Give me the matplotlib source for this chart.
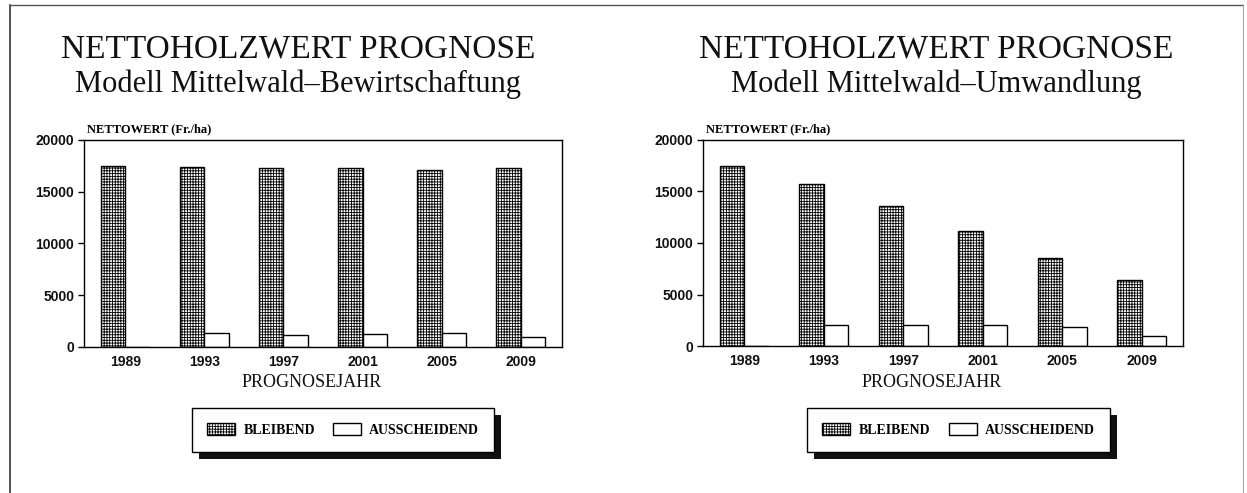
import matplotlib
matplotlib.use('Agg')
import matplotlib.pyplot as plt
import numpy as np
from matplotlib.patches import Rectangle
from matplotlib.lines import Line2D

# ---------------- data ----------------
years = ['1989', '1993', '1997', '2001', '2005', '2009']
bew_bleibend = [17500, 17420, 17320, 17260, 17130, 17290]
bew_ausscheidend = [0, 1350, 1130, 1260, 1320, 970]
umw_bleibend = [17500, 15720, 13610, 11180, 8560, 6450]
umw_ausscheidend = [0, 2010, 2010, 2000, 1880, 940]

title_main = 'NETTOHOLZWERT PROGNOSE'
subtitles = ['Modell Mittelwald\u2013Bewirtschaftung', 'Modell Mittelwald\u2013Umwandlung']
ylabel = 'NETTOWERT (Fr./ha)'
xlabel = 'PROGNOSEJAHR'
series_labels = ['BLEIBEND', 'AUSSCHEIDEND']
yticks = [0, 5000, 10000, 15000, 20000]

# ---------------- layout ----------------
W, H = 1247, 493
fig = plt.figure(figsize=(W / 100, H / 100), dpi=100)
plt.rcParams['hatch.linewidth'] = 0.6

def fx(px):
    return px / W

def fy(py):
    return 1 - py / H

SERIF = 'Liberation Serif'
SANS = 'Liberation Sans'

panels = [
    dict(box=(84, 140, 562, 347), tx=298, legend=(192, 408, 494, 452),
         b=bew_bleibend, a=bew_ausscheidend, sub=subtitles[0]),
    dict(box=(703, 140, 1183, 346), tx=936, legend=(807, 408, 1110, 452),
         b=umw_bleibend, a=umw_ausscheidend, sub=subtitles[1]),
]

# outer frame lines
fig.add_artist(Line2D([fx(10), fx(10)], [fy(5), fy(493)], color='#333333', lw=1.2))
fig.add_artist(Line2D([fx(10), fx(1243)], [fy(5), fy(5)], color='#555555', lw=1.0))
fig.add_artist(Line2D([fx(1243), fx(1243)], [fy(5), fy(493)], color='#aaaaaa', lw=0.8))

w = 0.31
x = np.arange(len(years))
legends = []
for p in panels:
    x0, y0, x1, y1 = p['box']
    ax = fig.add_axes([fx(x0), fy(y1), fx(x1 - x0), (y1 - y0) / H])
    hb = ax.bar(x - w / 2, p['b'], width=w, facecolor='white', edgecolor='black',
                hatch='++++++', linewidth=1.0, label=series_labels[0])
    ha = ax.bar(x + w / 2, p['a'], width=w, facecolor='white', edgecolor='black',
                linewidth=1.0, label=series_labels[1])
    ax.set_xlim(-0.52, 5.52)
    ax.set_ylim(0, 20000)
    ax.set_yticks(yticks)
    ax.set_xticks(x)
    ax.set_xticklabels(years)
    ax.tick_params(axis='y', direction='out', length=4, width=1, pad=3)
    ax.tick_params(axis='x', length=0, pad=6)
    for lab in ax.get_yticklabels() + ax.get_xticklabels():
        lab.set_fontfamily(SANS)
        lab.set_fontweight('bold')
        lab.set_fontsize(10)
        lab.set_color('#111111')
    for s in ax.spines.values():
        s.set_linewidth(1.0)
        s.set_color('black')

    cx = (x0 + x1) / 2
    fig.text(fx(p['tx']), fy(57), title_main, ha='center', va='baseline',
             family=SERIF, fontsize=24, color='#111111')
    fig.text(fx(p['tx']), fy(92), p['sub'], ha='center', va='baseline',
             family=SERIF, fontsize=22, color='#111111')
    fig.text(fx(x0 + 3), fy(132), ylabel, ha='left', va='baseline',
             family=SERIF, fontweight='bold', fontsize=9)
    fig.text(fx(cx - 11), fy(387), xlabel, ha='center', va='baseline',
             family=SERIF, fontsize=13, color='#111111')

    lx0, ly0, lx1, ly1 = p['legend']
    leg = fig.legend(handles=[hb, ha], labels=series_labels, ncol=2,
                     mode='expand', loc='center',
                     bbox_to_anchor=(fx(lx0), fy(ly1), fx(lx1 - lx0), (ly1 - ly0) / H),
                     prop=dict(family=SERIF, weight='bold', size=10),
                     frameon=True, fancybox=False, edgecolor='black', framealpha=1,
                     borderpad=1.1, handlelength=2.0, handleheight=1.0,
                     handletextpad=0.6, borderaxespad=0)
    leg.get_frame().set_linewidth(1.0)
    legends.append(leg)

fig.canvas.draw()
for leg in legends:
    bb = leg.get_window_extent()
    off = 7
    sh = Rectangle((bb.x0 + off, bb.y0 - off), bb.width, bb.height,
                   transform=None, facecolor='#111111', edgecolor='none', zorder=0)
    fig.add_artist(sh)
    leg.set_zorder(5)

fig.savefig('out.png', dpi=100)
